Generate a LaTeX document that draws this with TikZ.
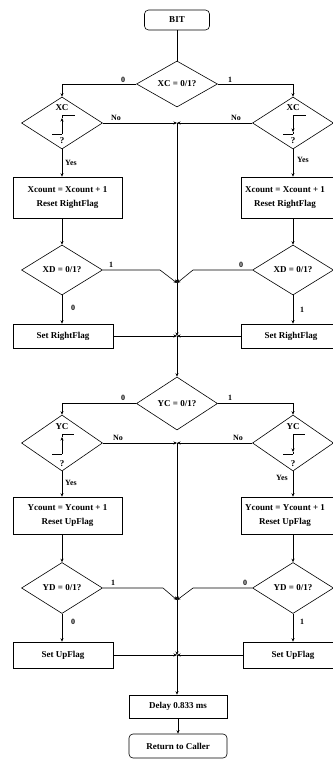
\documentclass[tikz,border=0pt]{standalone}
\usepackage{fontspec}
\setmainfont{Liberation Serif}
\usetikzlibrary{shapes.geometric,arrows.meta,calc}
\tikzset{
  base/.style={draw, line width=0.6pt, inner sep=0pt, font=\fontsize{9}{13.5}\selectfont\bfseries, align=center},
  box/.style={base, rectangle},
  term/.style={base, rectangle, rounded corners=4pt},
  dia/.style={draw, line width=0.6pt, diamond, inner sep=0pt, minimum width=81pt},
  txt/.style={font=\fontsize{9}{11}\selectfont\bfseries, inner sep=0pt},
  btxt/.style={font=\fontsize{9}{13.5}\selectfont\bfseries, inner sep=0pt, align=center},
  lbl/.style={font=\fontsize{8}{10}\selectfont\bfseries, inner sep=0pt},
  wire/.style={line width=0.6pt},
  arr/.style={line width=0.6pt, -{Stealth[length=3.5pt,width=3pt]}},
}
\begin{document}
\begin{tikzpicture}[x=1pt,y=-1pt]
\useasboundingbox (0,0) rectangle (332,760);
% ---------- nodes ----------
\node[term, minimum width=65pt, minimum height=20pt] (bit) at (177,20) {BIT};
\node[dia, minimum height=46pt] (xc) at (177,84) {};
\node[txt] at (xc) {XC = 0/1?};
\node[dia, minimum height=52pt] (xcL) at (62,123) {};
\node[dia, minimum height=52pt] (xcR) at (293,123) {};
\node[box, minimum width=109pt, minimum height=41pt] (cntL) at (67.5,197.5) {Xcount = Xcount + 1\\Reset RightFlag};
\node[box, minimum width=109pt, minimum height=41pt] (cntR) at (295.5,197.5) {};
\node[btxt] at (285,197.5) {Xcount = Xcount + 1\\Reset RightFlag};
\node[dia, minimum height=50pt] (xdL) at (62,270) {};
\node[txt] at (xdL) {XD = 0/1?};
\node[dia, minimum height=50pt] (xdR) at (293,270) {};
\node[txt] at (xdR) {XD = 0/1?};
\node[box, minimum width=100pt, minimum height=24pt] (setRL) at (63,336) {Set RightFlag};
\node[box, minimum width=100pt, minimum height=24pt] (setRR) at (291,336) {Set RightFlag};
\node[dia, minimum height=53pt] (yc) at (177,403.5) {};
\node[txt] at (yc) {YC = 0/1?};
\node[dia, minimum height=56pt] (ycL) at (62,443) {};
\node[dia, minimum height=56pt] (ycR) at (293,443) {};
\node[box, minimum width=109pt, minimum height=37pt] (ycntL) at (67.5,515.5) {Ycount = Ycount + 1\\Reset UpFlag};
\node[box, minimum width=109pt, minimum height=37pt] (ycntR) at (295.5,515.5) {};
\node[btxt] at (285,515.5) {Ycount = Ycount + 1\\Reset UpFlag};
\node[dia, minimum height=51pt] (ydL) at (62,588) {};
\node[txt] at (ydL) {YD = 0/1?};
\node[dia, minimum height=51pt] (ydR) at (293,588) {};
\node[txt] at (ydR) {YD = 0/1?};
\node[box, minimum width=100pt, minimum height=26pt] (setUL) at (63,655) {Set UpFlag};
\node[box, minimum width=100pt, minimum height=26pt] (setUR) at (293,655) {Set UpFlag};
\node[box, minimum width=98pt, minimum height=23pt] (delay) at (178,706.5) {Delay 0.833 ms};
\node[term, minimum width=98pt, minimum height=24pt] (ret) at (178,746) {Return to Caller};
% ---------- texts inside edge diamonds ----------
\foreach \d in {xcL,xcR} {
  \node[txt] at ([yshift=15pt]\d.center) {XC};
  \node[txt] at ([yshift=-18pt]\d.center) {?};
  \draw[wire] ([shift={(-10,11)}]\d.center) -- ++(10,0);
  \draw[wire] ([shift={(0,-8)}]\d.center) -- ++(13,0);
}
\draw[arr] ([shift={(0,11)}]xcL.center) -- ([shift={(0,-5)}]xcL.center);
\draw[wire] ([shift={(0,-5)}]xcL.center) -- ([shift={(0,-8)}]xcL.center);
\draw[arr] ([shift={(0,-8)}]xcR.center) -- ([shift={(0,9)}]xcR.center);
\draw[wire] ([shift={(0,9)}]xcR.center) -- ([shift={(0,11)}]xcR.center);
\foreach \d in {ycL,ycR} {
  \node[txt] at ([yshift=16pt]\d.center) {YC};
  \node[txt] at ([yshift=-21pt]\d.center) {?};
  \draw[wire] ([shift={(-10,11)}]\d.center) -- ++(10,0);
  \draw[wire] ([shift={(0,-9)}]\d.center) -- ++(12,0);
}
\draw[arr] ([shift={(0,11)}]ycL.center) -- ([shift={(0,-6)}]ycL.center);
\draw[wire] ([shift={(0,-6)}]ycL.center) -- ([shift={(0,-9)}]ycL.center);
\draw[arr] ([shift={(0,-9)}]ycR.center) -- ([shift={(0,9)}]ycR.center);
\draw[wire] ([shift={(0,9)}]ycR.center) -- ([shift={(0,11)}]ycR.center);
% ---------- junction coordinates ----------
\coordinate (j1) at (177,123);
\coordinate (j2) at (177,283);
\coordinate (j3) at (177,336);
\coordinate (j4) at (177,443);
\coordinate (j5) at (177,600);
\coordinate (j6) at (177,655);
% ---------- connectors: X part ----------
\draw[wire] (bit) -- (xc);
\draw[arr] (xc.west) -- (xcL.north |- xc.west) -- (xcL.north);
\draw[arr] (xc.east) -- (xcR.north |- xc.east) -- (xcR.north);
\node[lbl] at (123,80) {0};
\node[lbl] at (230,80) {1};
\draw[arr] (xcL.east) -- (j1);
\draw[arr] (xcR.west) -- (j1);
\node[lbl] at (116,118) {No};
\node[lbl] at (236,118) {No};
\draw[arr] (xcL.south) -- (xcL.south |- cntL.north);
\draw[arr] (xcR.south) -- (xcR.south |- cntR.north);
\node[lbl] at (71,163) {Yes};
\node[lbl] at (303,160) {Yes};
\draw[arr] (xcL.south |- cntL.south) -- (xdL.north);
\draw[arr] (xcR.south |- cntR.south) -- (xdR.north);
\draw[arr] (xdL.east) -- (160,270) -- (j2);
\draw[arr] (xdR.west) -- (193,270) -- (j2);
\node[lbl] at (111,265) {1};
\node[lbl] at (241,265) {0};
\draw[arr] (xdL.south) -- (xdL.south |- setRL.north);
\draw[arr] (xdR.south) -- (xdR.south |- setRR.north);
\node[lbl] at (73,308) {0};
\node[lbl] at (302,310) {1};
\draw[arr] (setRL.east) -- (j3);
\draw[arr] (setRR.west) -- (j3);
\draw[arr] (j1) -- (j2);
\draw[arr] (j2) -- (j3);
\draw[arr] (j3) -- (yc.north);
% ---------- connectors: Y part ----------
\draw[arr] (yc.west) -- (ycL.north |- yc.west) -- (ycL.north);
\draw[arr] (yc.east) -- (ycR.north |- yc.east) -- (ycR.north);
\node[lbl] at (123,398) {0};
\node[lbl] at (230,398) {1};
\draw[arr] (ycL.east) -- (j4);
\draw[arr] (ycR.west) -- (j4);
\node[lbl] at (118,438) {No};
\node[lbl] at (238,438) {No};
\draw[arr] (ycL.south) -- (ycL.south |- ycntL.north);
\draw[arr] (ycR.south) -- (ycR.south |- ycntR.north);
\node[lbl] at (71,483) {Yes};
\node[lbl] at (282,478) {Yes};
\draw[arr] (ycL.south |- ycntL.south) -- (ydL.north);
\draw[arr] (ycR.south |- ycntR.south) -- (ydR.north);
\draw[arr] (ydL.east) -- (163,588) -- (j5);
\draw[arr] (ydR.west) -- (193,588) -- (j5);
\node[lbl] at (113,583) {1};
\node[lbl] at (245,583) {0};
\draw[arr] (ydL.south) -- (ydL.south |- setUL.north);
\draw[arr] (ydR.south) -- (ydR.south |- setUR.north);
\node[lbl] at (73,622) {0};
\node[lbl] at (302,622) {1};
\draw[arr] (setUL.east) -- (j6);
\draw[arr] (setUR.west) -- (j6);
\draw[arr] (j4) -- (j5);
\draw[arr] (j5) -- (j6);
\draw[arr] (j6) -- (j6 |- delay.north);
\draw[arr] (delay.south -| ret.north) -- (ret.north);
\end{tikzpicture}
\end{document}
